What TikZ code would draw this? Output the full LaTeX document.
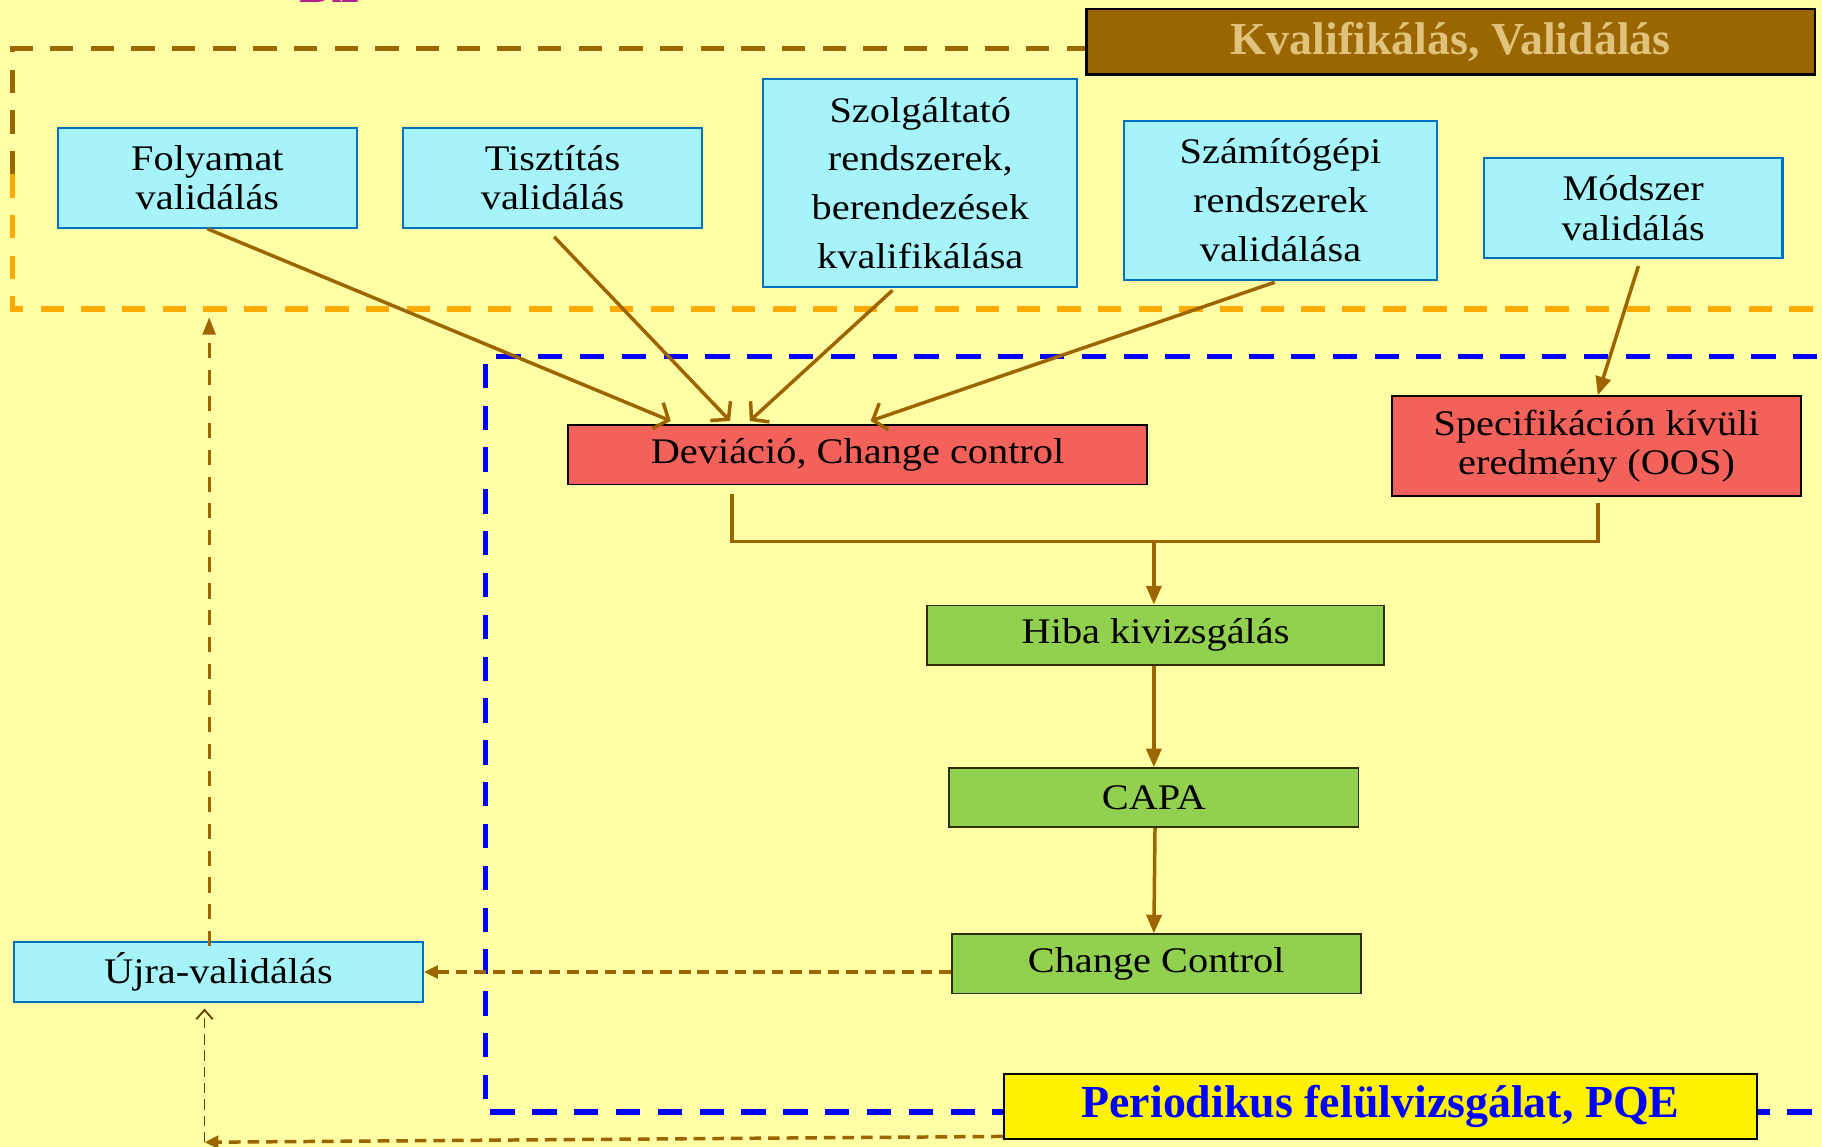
\documentclass[tikz,border=0pt]{standalone}
\usepackage{fontspec}
\setmainfont{Liberation Serif}[FakeStretch=1.12]
\newfontfamily\headfont{Liberation Serif}
\usetikzlibrary{arrows.meta,calc}

\definecolor{bgyellow}{HTML}{FFFFA6}
\definecolor{cyanfill}{HTML}{A6F4FA}
\definecolor{cyanline}{HTML}{0070C0}
\definecolor{redfill}{HTML}{F2615A}
\definecolor{greenfill}{HTML}{92D050}
\definecolor{greenline}{HTML}{2E2E00}
\definecolor{brownline}{HTML}{9C6500}
\definecolor{darkbrown}{HTML}{6B3E00}
\definecolor{framebrown}{HTML}{9C6600}
\definecolor{frameorange}{HTML}{FFAA00}
\definecolor{headbrown}{HTML}{996600}
\definecolor{headtext}{HTML}{E0C27C}
\definecolor{magentatext}{HTML}{B5208F}

\begin{document}
\begin{tikzpicture}[x=1pt,y=-1pt,
  box/.style={draw, rectangle, align=center, inner sep=0pt, text=black,
    font=\fontsize{31}{34}\selectfont},
  widebox/.style={box, font=\fontsize{31}{42}\selectfont},
  cyanbox/.style={fill=cyanfill, draw=cyanline, line width=1.8pt},
  redbox/.style={box, fill=redfill, draw=black, line width=1.5pt},
  greenbox/.style={box, fill=greenfill, draw=greenline, line width=1.5pt},
  headbox/.style={draw=black, line width=2pt, inner sep=0pt, text=headtext,
    font=\headfont\bfseries\fontsize{39.5}{44}\selectfont},
  flow/.style={draw=brownline, line width=3pt},
  barb/.style={flow, -{Straight Barb[length=10pt,width=24pt]}},
  solidhead/.style={flow, -{Triangle[length=16pt,width=13pt]}},
  dashflow/.style={flow, dash pattern=on 10pt off 6pt,
    -{Triangle[length=12pt,width=11pt]}},
  frameline/.style={line width=4.6pt, dash pattern=on 20pt off 15pt},
  blueframe/.style={draw=blue, line width=4.5pt, dash pattern=on 21pt off 15pt}]

\useasboundingbox (0,0) rectangle (1568,987);
\clip (0,0) rectangle (1568,987);
\fill[bgyellow] (0,0) rectangle (1568,987);

% heading fragment at the top edge
\node[anchor=base west, inner sep=0pt, text=magentatext,
  font=\headfont\bfseries\itshape\fontsize{40}{44}\selectfont] (toptitle) at (258,2.5) {Biz};

% qualification / validation frame
\draw[framebrown, frameline] (11,150) -- (11,42) -- (960,42);
\draw[framebrown, frameline] (1540,42) -- (1600,42);
\draw[frameorange, frameline] (11,150) -- (11,266) -- (1600,266);

% periodic review frame
\draw[blueframe] (1600,307) -- (418,307) -- (418,957) -- (1600,957);

% headings
\node[headbox, fill=headbrown, minimum width=627pt, minimum height=56pt] (kval) at (1248.5,36)
  {Kvalifikálás, Validálás};
\node[headbox, fill=yellow, text=blue, minimum width=648pt, minimum height=56pt] (pqe) at (1188,952)
  {Periodikus felülvizsgálat, PQE};

% validation activities
\node[box, cyanbox, minimum width=257pt, minimum height=86pt] (folyamat) at (178.5,153)
  {Folyamat\\validálás};
\node[box, cyanbox, minimum width=257pt, minimum height=86pt] (tisztitas) at (475.5,153)
  {Tisztítás\\validálás};
\node[widebox, cyanbox, minimum width=270pt, minimum height=179pt] (szolg) at (792,157.5)
  {Szolgáltató\\rendszerek,\\berendezések\\kvalifikálása};
\node[widebox, cyanbox, minimum width=270pt, minimum height=137pt] (szamito) at (1102,172.5)
  {Számítógépi\\rendszerek\\validálása};
\node[box, cyanbox, minimum width=257pt, minimum height=86pt] (modszer) at (1405.5,179)
  {Módszer\\validálás};

% events
\node[redbox, minimum width=498pt, minimum height=51pt] (deviacio) at (738,391.5)
  {Deviáció, Change control};
\node[redbox, minimum width=352pt, minimum height=86pt] (oos) at (1374,384)
  {Specifikáción kívüli\\eredmény (OOS)};

% handling chain
\node[greenbox, minimum width=393pt, minimum height=51pt] (hiba) at (994.5,546.5)
  {Hiba kivizsgálás};
\node[greenbox, minimum width=352pt, minimum height=51pt] (capa) at (993,686.5)
  {CAPA};
\node[greenbox, minimum width=352pt, minimum height=51pt] (cc) at (995,829.5)
  {Change Control};

\node[box, cyanbox, minimum width=352pt, minimum height=51pt] (ujra) at (188,836.5)
  {Újra-validálás};

% arrows into the events
\draw[barb] (folyamat.south) -- ([xshift=89pt,yshift=3pt]deviacio.north west);
\draw[barb] ([xshift=1.5pt,yshift=-7pt]tisztitas.south) -- ([xshift=140pt,yshift=3pt]deviacio.north west);
\draw[barb] ([xshift=-24pt,yshift=-2pt]szolg.south) -- ([xshift=157pt,yshift=3pt]deviacio.north west);
\draw[barb] ([xshift=-5pt,yshift=-1pt]szamito.south) -- ([xshift=261pt,yshift=3pt]deviacio.north west);
\draw[solidhead] ([xshift=4.5pt,yshift=-6pt]modszer.south) -- ([xshift=1pt]oos.north);

% merging the events
\coordinate (bus) at (993,466);
\draw[flow] ([xshift=-108pt,yshift=-7pt]deviacio.south) |- (bus) -| ([xshift=1pt,yshift=-5pt]oos.south);
\draw[solidhead] (bus) -- (bus |- hiba.north);
\draw[solidhead] (hiba.south -| bus) -- (bus |- capa.north);
\draw[solidhead] ([xshift=1pt]capa.south) -- (cc.north -| bus);

% feedback to revalidation
\draw[dashflow] (ujra.east -| cc.west) -- (ujra.east);
\coordinate (revalid) at (180,273);
\draw[flow, line width=2.6pt, dash pattern=on 13pt off 10pt,
  -{Triangle[length=15pt,width=11pt]}] ([xshift=-8pt,yshift=-4pt]ujra.north) -- (revalid);
\coordinate (corner) at (176,983);
\draw[dashflow] ([yshift=-26pt]pqe.west) -- (corner);
\draw[darkbrown, line width=1.6pt, dash pattern=on 9pt off 5pt,
  -{Straight Barb[length=8pt,width=14pt]}] (corner) -- ([xshift=-12pt,yshift=-5pt]ujra.south);

\end{tikzpicture}
\end{document}
